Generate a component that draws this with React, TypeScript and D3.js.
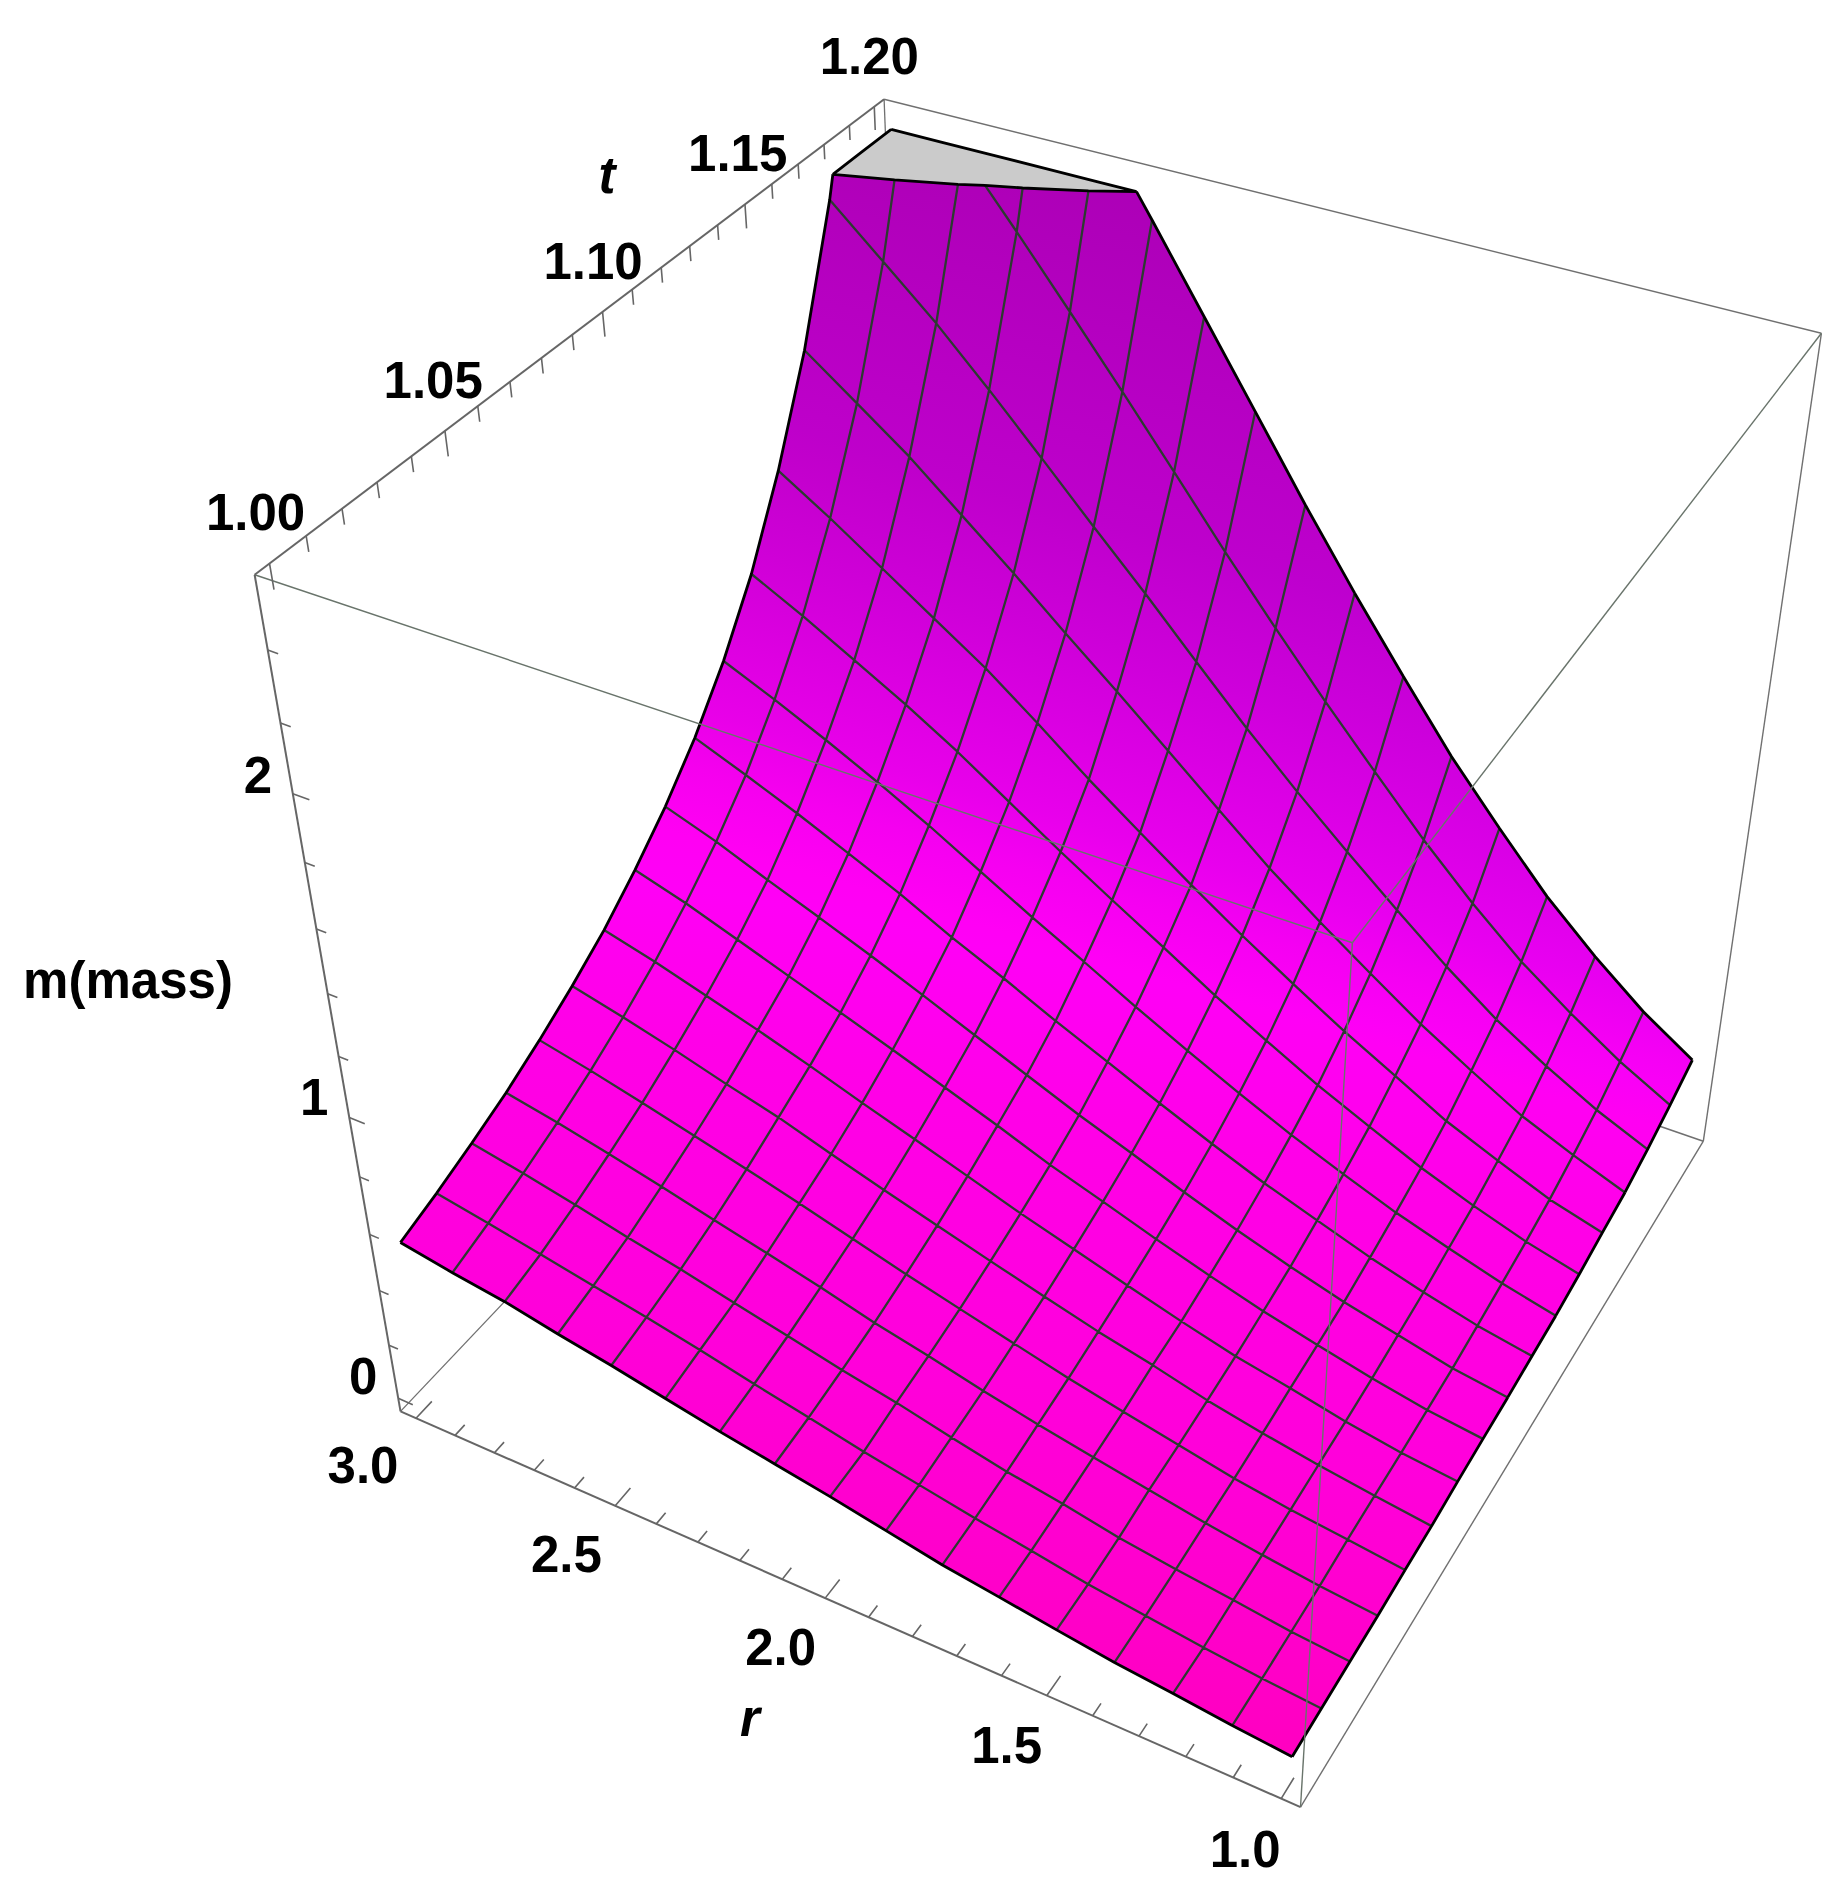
import React, { useEffect, useRef } from "react";
import * as d3 from "d3";

// mesh positions of the surface
const radiusGrid = [3, 2.875, 2.75, 2.625, 2.5, 2.375, 2.25, 2.125, 2, 1.875, 1.75, 1.625, 1.5, 1.375, 1.25, 1.125, 1];
const timeGrid = [1, 1.0125, 1.025, 1.0375, 1.05, 1.0625, 1.075, 1.0875, 1.1, 1.1125, 1.125, 1.1375, 1.15, 1.1625, 1.175, 1.1875, 1.2];

// m, one row per time, one column per radius
const massGrid = [
  [0.552, 0.52, 0.493, 0.455, 0.421, 0.383, 0.345, 0.311, 0.277, 0.239, 0.201, 0.172, 0.142, 0.114, 0.093, 0.069, 0.05],
  [0.592, 0.559, 0.523, 0.486, 0.45, 0.411, 0.368, 0.328, 0.286, 0.249, 0.212, 0.18, 0.145, 0.118, 0.092, 0.07, 0.053],
  [0.638, 0.603, 0.564, 0.521, 0.482, 0.438, 0.396, 0.352, 0.314, 0.269, 0.227, 0.194, 0.155, 0.126, 0.101, 0.074, 0.055],
  [0.689, 0.653, 0.612, 0.568, 0.522, 0.477, 0.43, 0.379, 0.337, 0.29, 0.248, 0.21, 0.174, 0.137, 0.106, 0.079, 0.058],
  [0.75, 0.71, 0.665, 0.618, 0.57, 0.52, 0.467, 0.414, 0.365, 0.317, 0.269, 0.227, 0.186, 0.146, 0.115, 0.09, 0.064],
  [0.819, 0.775, 0.727, 0.674, 0.625, 0.565, 0.508, 0.453, 0.399, 0.346, 0.295, 0.251, 0.201, 0.161, 0.126, 0.096, 0.068],
  [0.897, 0.85, 0.796, 0.741, 0.682, 0.619, 0.559, 0.498, 0.436, 0.38, 0.323, 0.268, 0.218, 0.179, 0.136, 0.102, 0.078],
  [0.992, 0.938, 0.875, 0.811, 0.748, 0.683, 0.617, 0.55, 0.479, 0.418, 0.355, 0.296, 0.241, 0.194, 0.149, 0.111, 0.085],
  [1.1, 1.039, 0.968, 0.9, 0.83, 0.756, 0.68, 0.605, 0.53, 0.462, 0.392, 0.326, 0.266, 0.211, 0.166, 0.12, 0.091],
  [1.228, 1.159, 1.087, 1.009, 0.93, 0.841, 0.761, 0.675, 0.596, 0.515, 0.438, 0.365, 0.301, 0.238, 0.184, 0.136, 0.1],
  [1.384, 1.31, 1.23, 1.145, 1.055, 0.956, 0.859, 0.766, 0.671, 0.58, 0.494, 0.412, 0.339, 0.269, 0.21, 0.154, 0.109],
  [1.574, 1.489, 1.396, 1.302, 1.2, 1.087, 0.975, 0.868, 0.764, 0.658, 0.561, 0.467, 0.384, 0.303, 0.234, 0.173, 0.125],
  [1.815, 1.712, 1.601, 1.489, 1.378, 1.25, 1.116, 0.992, 0.87, 0.754, 0.645, 0.54, 0.444, 0.347, 0.27, 0.197, 0.145],
  [2.106, 1.987, 1.867, 1.73, 1.593, 1.449, 1.31, 1.166, 1.021, 0.878, 0.75, 0.629, 0.511, 0.407, 0.308, 0.232, 0.163],
  [2.48, 2.338, 2.195, 2.036, 1.87, 1.701, 1.536, 1.364, 1.195, 1.036, 0.886, 0.741, 0.601, 0.474, 0.368, 0.273, 0.195],
  [2.964, 2.794, 2.623, 2.433, 2.237, 2.038, 1.835, 1.629, 1.431, 1.24, 1.057, 0.878, 0.714, 0.566, 0.442, 0.329, 0.234],
  [3.6, 3.39, 3.18, 2.954, 2.715, 2.474, 2.229, 1.984, 1.738, 1.503, 1.279, 1.062, 0.87, 0.687, 0.532, 0.393, 0.279],
];
const massClip = 2.545;

// axis ticks
const radiusTicks = [1, 1.1, 1.2, 1.3, 1.4, 1.5, 1.6, 1.7, 1.8, 1.9, 2, 2.1, 2.2, 2.3, 2.4, 2.5, 2.6, 2.7, 2.8, 2.9, 3];
const timeTicks = [1, 1.01, 1.02, 1.03, 1.04, 1.05, 1.06, 1.07, 1.08, 1.09, 1.1, 1.11, 1.12, 1.13, 1.14, 1.15, 1.16, 1.17, 1.18, 1.19, 1.2];
const massTicks = [0, 0.2, 0.4, 0.6, 0.8, 1, 1.2, 1.4, 1.6, 1.8, 2, 2.2, 2.4];
const radiusLabels = ["1.0", "1.5", "2.0", "2.5", "3.0"];
const timeLabels = ["1.00", "1.05", "1.10", "1.15", "1.20"];
const massLabels = ["0", "1", "2"];

// the lighting on the surface: red and blue each run along their own slanted page direction
const redAt = [137, 220, 490, 620, 730, 800, 860, 930];
const redLevels = [172, 176, 190, 206, 222, 232, 245, 255];
const redSlant = 0.3;
const blueAt = [180, 500, 700, 850, 950, 1100, 1400, 1700];
const blueLevels = [184, 204, 225, 240, 246, 232, 218, 192];
const blueSlant = 0.2;

// box extent and where its eight corners land on the page (u, v, w, x, y)
const rangeR = [0.96, 3.04];
const rangeT = [0.996, 1.204];
const rangeM = [-0.05, 2.6];
const boxCorners = [
  [0, 0, 0, 1300, 1806], [1, 0, 0, 399.5, 1412], [0, 1, 0, 1703, 1143], [1, 1, 0, 915.5, 868],
  [0, 0, 1, 1354, 943], [1, 0, 1, 255, 575], [0, 1, 1, 1821, 332], [1, 1, 1, 883, 100],
];

// Fit the perspective camera to the box corners (least squares)
function fitCamera() {
  const A: number[][] = [];
  const b: number[] = [];
  boxCorners.forEach(([u, v, w, x, y]) => {
    A.push([u, v, w, 1, 0, 0, 0, 0, -x * u, -x * v, -x * w]);
    b.push(x);
    A.push([0, 0, 0, 0, u, v, w, 1, -y * u, -y * v, -y * w]);
    b.push(y);
  });
  const n = 11;
  const M = d3.range(n).map((i) =>
    d3.range(n + 1).map((j) => (j < n ? d3.sum(A, (row) => row[i] * row[j]) : d3.sum(A, (row, k) => row[i] * b[k])))
  );
  for (let c = 0; c < n; c++) {
    let p = c;
    for (let r = c + 1; r < n; r++) if (Math.abs(M[r][c]) > Math.abs(M[p][c])) p = r;
    [M[c], M[p]] = [M[p], M[c]];
    for (let r = 0; r < n; r++) {
      if (r === c) continue;
      const f = M[r][c] / M[c][c];
      for (let k = c; k <= n; k++) M[r][k] -= f * M[c][k];
    }
  }
  return M.map((row, i) => row[n] / row[i]);
}

const cam = fitCamera();
const scaleR = d3.scaleLinear().domain(rangeR).range([0, 1]);
const scaleT = d3.scaleLinear().domain(rangeT).range([0, 1]);
const scaleM = d3.scaleLinear().domain(rangeM).range([0, 1]);

const projectUnit = (u: number, v: number, w: number): [number, number] => {
  const d = cam[8] * u + cam[9] * v + cam[10] * w + 1;
  return [
    (cam[0] * u + cam[1] * v + cam[2] * w + cam[3]) / d,
    (cam[4] * u + cam[5] * v + cam[6] * w + cam[7]) / d,
  ];
};
const project = ([r, t, m]: number[]) => projectUnit(scaleR(r), scaleT(t), scaleM(m));

type Pt = number[]; // [r, t, m]

const crossing = (a: Pt, b: Pt): Pt => {
  const f = (massClip - a[2]) / (b[2] - a[2]);
  return [a[0] + f * (b[0] - a[0]), a[1] + f * (b[1] - a[1]), massClip];
};

// Keep the part of a polygon below (sign 1) or above (sign -1) the clip level
function clipPolygon(poly: Pt[], sign: number) {
  const out: Pt[] = [];
  poly.forEach((a, i) => {
    const b = poly[(i + 1) % poly.length];
    const inA = sign * (massClip - a[2]) >= 0;
    const inB = sign * (massClip - b[2]) >= 0;
    if (inA) out.push(a);
    if (inA !== inB) out.push(crossing(a, b));
  });
  return out;
}

const onBorder = (a: Pt, b: Pt) =>
  (a[0] === 3 && b[0] === 3) ||
  (a[0] === 1 && b[0] === 1) ||
  (a[1] === 1 && b[1] === 1) ||
  (a[1] === 1.2 && b[1] === 1.2);
const onContour = (a: Pt, b: Pt) => a[2] === massClip && b[2] === massClip;

const App = () => {
  const svgRef = useRef<SVGSVGElement>(null);

  useEffect(() => {
    const svg = d3.select(svgRef.current);
    svg.selectAll("*").remove();
    const defs = svg.append("defs");

    // One gradient per colour channel, in page space
    const channelGradient = (id: string, at: number[], slant: number, color: (v: number) => string, levels: number[]) => {
      const span = at[at.length - 1] - at[0];
      const norm = 1 + slant * slant;
      const gradient = defs.append("linearGradient")
        .attr("id", id)
        .attr("gradientUnits", "userSpaceOnUse")
        .attr("x1", 1000)
        .attr("y1", at[0])
        .attr("x2", 1000 - (slant * span) / norm)
        .attr("y2", at[0] + span / norm);
      at.forEach((s, i) => {
        gradient.append("stop").attr("offset", (s - at[0]) / span).attr("stop-color", color(levels[i]));
      });
    };
    channelGradient("redShade", redAt, redSlant, (v) => `rgb(${v},0,0)`, redLevels);
    channelGradient("blueShade", blueAt, blueSlant, (v) => `rgb(0,0,${v})`, blueLevels);

    const corner = (u: number, v: number, w: number) => projectUnit(u, v, w);
    const segment = (a: number[], b: number[]) => `M${a[0]},${a[1]}L${b[0]},${b[1]}`;
    const stroke = (d: string, color: string, width: number) =>
      svg.append("path").attr("d", d).attr("fill", "none").attr("stroke", color)
        .attr("stroke-width", width).attr("stroke-linejoin", "round");

    // Box edges behind the surface
    stroke(segment(corner(1, 0, 0), corner(1, 1, 0)), "#707070", 1.3);
    stroke(segment(corner(0, 1, 0), corner(1, 1, 0)), "#707070", 1.6);
    stroke(segment(corner(1, 1, 1), corner(1, 1, 0)), "#707070", 1.3);
    stroke(segment(corner(1, 1, 1), corner(0, 1, 1)), "#707070", 1.4);
    stroke(segment(corner(0, 1, 1), corner(0, 1, 0)), "#707070", 1.4);
    stroke(segment(corner(0, 1, 0), corner(0, 0, 0)), "#707070", 1.4);

    // Cut the mesh cells at the clip level
    let below = "";
    let above = "";
    let rim = "";
    const ring = (poly: Pt[]) => `M${poly.map((p) => project(p).join(",")).join("L")}Z`;
    const rimOf = (poly: Pt[], test: (a: Pt, b: Pt) => boolean) =>
      poly.forEach((a, i) => {
        const b = poly[(i + 1) % poly.length];
        if (test(a, b)) rim += segment(project(a), project(b));
      });
    massGrid.slice(0, -1).forEach((row, j) => {
      radiusGrid.slice(0, -1).forEach((_, i) => {
        const cell = [
          [radiusGrid[i], timeGrid[j], row[i]],
          [radiusGrid[i + 1], timeGrid[j], row[i + 1]],
          [radiusGrid[i + 1], timeGrid[j + 1], massGrid[j + 1][i + 1]],
          [radiusGrid[i], timeGrid[j + 1], massGrid[j + 1][i]],
        ];
        const low = clipPolygon(cell, 1);
        if (low.length > 2) {
          below += ring(low);
          rimOf(low, (a, b) => onBorder(a, b) || onContour(a, b));
        }
        const high = clipPolygon(cell, -1).map(([r, t]) => [r, t, massClip]);
        if (high.length > 2) {
          above += ring(high);
          rimOf(high, onBorder);
        }
      });
    });
    svg.append("path").attr("d", above).attr("fill", "#cbcbcb");
    svg.append("path").attr("d", below).attr("fill", "url(#redShade)");
    svg.append("path").attr("d", below).attr("fill", "url(#blueShade)").style("mix-blend-mode", "screen");

    // Mesh lines, stopped at the clip level
    let mesh = "";
    const meshLine = (pts: Pt[]) =>
      pts.slice(0, -1).forEach((a, k) => {
        const b = pts[k + 1];
        if (a[2] > massClip && b[2] > massClip) return;
        const p = a[2] > massClip ? crossing(a, b) : a;
        const q = b[2] > massClip ? crossing(a, b) : b;
        mesh += segment(project(p), project(q));
      });
    d3.range(1, 16).forEach((i) => meshLine(timeGrid.map((t, j) => [radiusGrid[i], t, massGrid[j][i]])));
    d3.range(1, 16).forEach((j) => meshLine(radiusGrid.map((r, i) => [r, timeGrid[j], massGrid[j][i]])));
    stroke(mesh, "#2c3b30", 2.3);
    stroke(rim, "#000", 2.8);

    // Box edges in front of the surface show through it
    stroke(segment(corner(1, 0, 1), corner(0, 0, 1)), "#69746b", 1.4);
    stroke(segment(corner(0, 0, 1), corner(0, 0, 0)), "#69746b", 1.4);
    stroke(segment(corner(0, 0, 1), corner(0, 1, 1)), "#69746b", 1.4);

    // The three framed axes
    stroke(segment(corner(1, 0, 1), corner(1, 0, 0)), "#666", 2);
    stroke(segment(corner(1, 0, 0), corner(0, 0, 0)), "#666", 2);
    stroke(segment(corner(1, 0, 1), corner(1, 1, 1)), "#666", 2);

    const label = (text: string, p: number[], dx: number, dy: number, italic = false) =>
      svg.append("text")
        .attr("x", p[0] + dx)
        .attr("y", p[1] + dy)
        .attr("text-anchor", "middle")
        .attr("font-family", "'Liberation Sans', Arial, sans-serif")
        .attr("font-weight", "bold")
        .attr("font-style", italic ? "italic" : "normal")
        .attr("font-size", 51)
        .text(text);

    let ticks = "";
    radiusTicks.forEach((r) => {
      const major = radiusLabels.includes(r.toFixed(1));
      ticks += segment(projectUnit(scaleR(r), 0, 0), projectUnit(scaleR(r), major ? 0.026 : 0.016, 0));
    });
    timeTicks.forEach((t) => {
      const major = timeLabels.includes(t.toFixed(2));
      ticks += segment(projectUnit(1, scaleT(t), 1), projectUnit(1, scaleT(t), major ? 1 - 0.026 : 1 - 0.016));
    });
    massTicks.forEach((m) => {
      const major = massLabels.includes(String(m));
      ticks += segment(projectUnit(1, 0, scaleM(m)), projectUnit(major ? 1 - 0.018 : 1 - 0.011, 0, scaleM(m)));
    });
    stroke(ticks, "#666", 1.6);

    radiusLabels.forEach((s) => {
      const v = +s;
      label(s, projectUnit(scaleR(v), 0, 0), -53 + 17 * (3 - v) / 2, 65 + 3 * (3 - v) / 2);
    });
    timeLabels.forEach((s) => {
      const v = +s;
      label(s, projectUnit(1, scaleT(v), 1), -14 + 45 * (v - 1), -33);
    });
    massLabels.forEach((s) => label(s, projectUnit(1, 0, scaleM(+s)), -35, -1 - (2 - +s) * 1.5));

    label("m(mass)", [128, 998], 0, 0);
    label("t", [607, 193], 0, 0, true);
    label("r", [750, 1736], 0, 0, true);
  }, []);

  return <svg ref={svgRef} width={1842} height={1894} style={{ position: "absolute", left: 0, top: 0, background: "#fff" }} />;
};

export default App;
